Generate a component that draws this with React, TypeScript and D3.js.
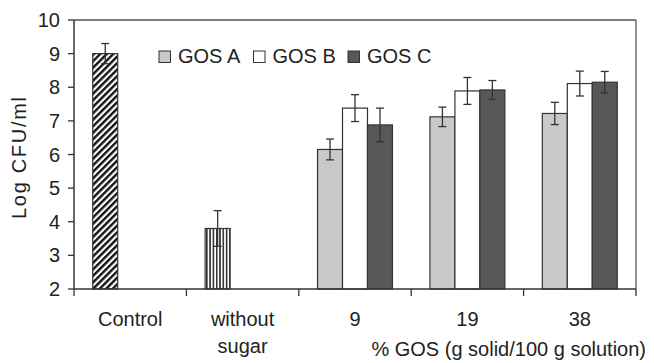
import React from 'react';
import * as d3 from 'd3';

const categories = ['Control', 'without sugar', '9', '19', '38'];
const seriesNames = ['GOS A', 'GOS B', 'GOS C'];
const seriesColors = ['#c8c9cb', '#ffffff', '#56585a'];

// control / without sugar bars (slot 0 of their group)
const baseMeans = [9.0, 3.8, null, null, null];
const baseErrors = [0.3, 0.53, null, null, null];

const gosA = [null, null, 6.15, 7.12, 7.22];
const gosB = [null, null, 7.38, 7.89, 8.11];
const gosC = [null, null, 6.88, 7.92, 8.15];
const gosAErr = [null, null, 0.31, 0.29, 0.33];
const gosBErr = [null, null, 0.4, 0.4, 0.37];
const gosCErr = [null, null, 0.5, 0.28, 0.32];

const yTicks = [2, 3, 4, 5, 6, 7, 8, 9, 10];

const W = 654;
const H = 363;
const margin = { top: 20, right: 18, bottom: 74, left: 74 };
const font = 'Liberation Sans, Arial, Helvetica, sans-serif';
const fs = 20;

export default function App() {
  const innerW = W - margin.left - margin.right;
  const innerH = H - margin.top - margin.bottom;

  const x = d3.scaleBand<string>().domain(categories).range([0, innerW]).padding(0);
  const slot = d3
    .scaleBand<number>()
    .domain([0, 1, 2])
    .range([0, x.bandwidth()])
    .paddingInner(0)
    .paddingOuter(0.75);
  const y = d3.scaleLinear().domain([2, 10]).range([innerH, 0]);

  const seriesVals = [gosA, gosB, gosC];
  const seriesErrs = [gosAErr, gosBErr, gosCErr];
  const bw = slot.bandwidth();
  const axisColor = '#333';

  const errorBar = (cx: number, m: number, e: number, key: string) => (
    <g key={key} stroke={axisColor} strokeWidth={1.3}>
      <line x1={cx} x2={cx} y1={y(m + e)} y2={y(m - e)} />
      <line x1={cx - 4} x2={cx + 4} y1={y(m + e)} y2={y(m + e)} />
      <line x1={cx - 4} x2={cx + 4} y1={y(m - e)} y2={y(m - e)} />
    </g>
  );

  const basePatterns = ['url(#diag)', 'url(#vert)'];

  return (
    <svg width={W} height={H} style={{ position: 'absolute', left: 0, top: 0, background: '#fff' }}>
      <defs>
        <pattern id="diag" width={4.6} height={4.6} patternUnits="userSpaceOnUse" patternTransform="rotate(45)">
          <rect width={4.6} height={4.6} fill="#fff" />
          <line x1={1.2} x2={1.2} y1={0} y2={4.6} stroke="#111" strokeWidth={2.4} />
        </pattern>
        <pattern id="vert" width={3.3} height={10} patternUnits="userSpaceOnUse">
          <rect width={3.3} height={10} fill="#fff" />
          <line x1={0.8} x2={0.8} y1={0} y2={10} stroke="#222" strokeWidth={1.5} />
        </pattern>
      </defs>
      <g transform={`translate(${margin.left},${margin.top})`} fontFamily={font}>
        {/* frame top/right */}
        <line x1={0} x2={innerW} y1={0} y2={0} stroke="#555" strokeWidth={1.3} />
        <line x1={innerW} x2={innerW} y1={0} y2={innerH} stroke="#555" strokeWidth={1.3} />

        {/* control + without sugar */}
        {categories.map((c, i) => {
          const m = baseMeans[i];
          if (m == null) return null;
          const bx = (x(c) as number) + (slot(0) as number);
          return (
            <g key={'b' + c}>
              <rect x={bx} y={y(m)} width={bw} height={innerH - y(m)} fill={basePatterns[i]} stroke={axisColor} strokeWidth={1.2} />
              {errorBar(bx + bw / 2, m, baseErrors[i] as number, 'e' + c)}
            </g>
          );
        })}

        {/* GOS series */}
        {seriesVals.map((vals, s) =>
          categories.map((c, i) => {
            const m = vals[i];
            if (m == null) return null;
            const bx = (x(c) as number) + (slot(s) as number);
            return (
              <rect key={s + c} x={bx} y={y(m)} width={bw} height={innerH - y(m)} fill={seriesColors[s]} stroke={axisColor} strokeWidth={1.2} />
            );
          })
        )}
        {seriesVals.map((vals, s) =>
          categories.map((c, i) => {
            const m = vals[i];
            if (m == null) return null;
            const bx = (x(c) as number) + (slot(s) as number);
            return errorBar(bx + bw / 2, m, seriesErrs[s][i] as number, 'err' + s + c);
          })
        )}

        {/* y axis */}
        <line x1={0} x2={0} y1={0} y2={innerH} stroke={axisColor} strokeWidth={1.5} />
        {yTicks.map((t) => (
          <g key={t} transform={`translate(0,${y(t)})`}>
            <line x1={-6} x2={0} stroke={axisColor} strokeWidth={1.3} />
            <text x={-14} dy="0.35em" textAnchor="end" fontSize={fs} fill="#222">
              {t}
            </text>
          </g>
        ))}

        {/* x axis */}
        <line x1={0} x2={innerW} y1={innerH} y2={innerH} stroke={axisColor} strokeWidth={1.5} />
        {categories.map((c) => (
          <line key={'t' + c} x1={x(c) as number} x2={x(c) as number} y1={innerH} y2={innerH + 7} stroke={axisColor} strokeWidth={1.3} />
        ))}
        <line x1={innerW} x2={innerW} y1={innerH} y2={innerH + 7} stroke={axisColor} strokeWidth={1.3} />
        {categories.map((c) => {
          const cx = (x(c) as number) + x.bandwidth() / 2;
          const lines = c === 'without sugar' ? ['without', 'sugar'] : [c];
          return (
            <text key={'l' + c} x={cx} y={innerH + 37} textAnchor="middle" fontSize={fs} fill="#222">
              {lines.map((ln, k) => (
                <tspan key={k} x={cx} dy={k === 0 ? 0 : 27}>
                  {ln}
                </tspan>
              ))}
            </text>
          );
        })}
        <text x={innerW + 10} y={innerH + 67} textAnchor="end" fontSize={fs} fill="#222">
          % GOS (g solid/100 g solution)
        </text>

        {/* y label */}
        <text
          transform={`translate(${26 - margin.left},${158 - margin.top})rotate(-90)`}
          textAnchor="middle"
          fontSize={fs}
          fill="#222"
          textLength={122}
          lengthAdjust="spacing"
        >
          Log CFU/ml
        </text>

        {/* legend */}
        {seriesNames.map((n, s) => (
          <g key={n} transform={`translate(${85 + s * 94.5},${62.5 - margin.top})`}>
            <rect x={0} y={-11.5} width={11.5} height={11.5} fill={seriesColors[s]} stroke={axisColor} strokeWidth={1} />
            <text x={19} fontSize={fs} fill="#222">
              {n}
            </text>
          </g>
        ))}
      </g>
    </svg>
  );
}
